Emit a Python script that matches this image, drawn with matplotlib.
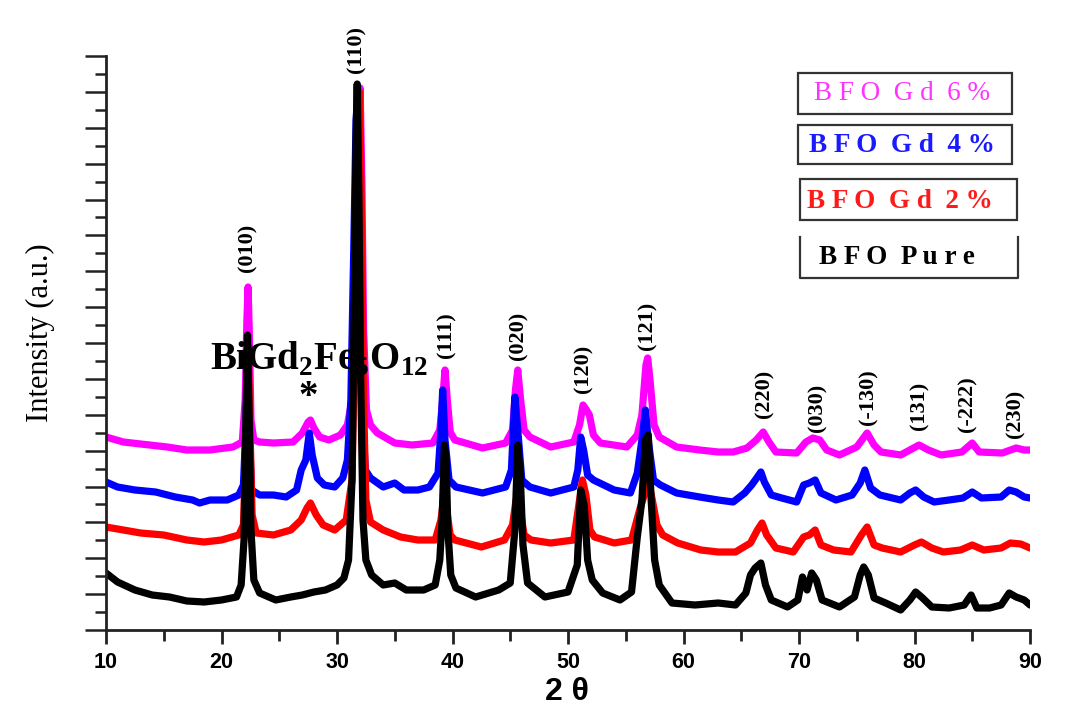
import matplotlib
matplotlib.use("Agg")
import matplotlib.pyplot as plt
from matplotlib.ticker import MultipleLocator, NullFormatter
from matplotlib.patches import Rectangle
from matplotlib.lines import Line2D

# ---------------- data (2theta in degrees, intensity in a.u., stacked as plotted) -------------
x_pure = [10.0, 11.0, 12.5, 14.0, 15.5, 17.0, 18.5, 20.0, 21.3, 21.7, 21.95, 22.1, 22.25, 22.4, 22.55,
          22.8, 23.3, 24.7, 26.0, 27.0, 28.0, 29.0, 30.0, 30.6, 31.0, 31.3, 31.5, 31.65, 31.75, 31.9,
          32.05, 32.25, 32.5, 33.0, 34.0, 35.0, 36.0, 37.5, 38.5, 38.9, 39.1, 39.3, 39.45, 39.6, 39.85,
          40.3, 42.0, 44.0, 45.0, 45.4, 45.65, 45.85, 46.1, 46.5, 48.0, 50.0, 50.8, 51.1, 51.4, 51.7,
          52.1, 53.0, 54.5, 55.5, 56.0, 56.4, 56.7, 56.95, 57.2, 57.5, 57.9, 59.0, 61.0, 63.0, 64.5,
          65.4, 65.8, 66.2, 66.7, 67.1, 67.6, 69.0, 69.9, 70.3, 70.7, 71.1, 71.5, 72.0, 73.5, 74.8,
          75.3, 75.6, 76.0, 76.5, 77.5, 78.8, 79.6, 80.1, 80.7, 81.5, 83.0, 84.3, 84.9, 85.4, 86.5,
          87.5, 88.2, 88.8, 89.5, 90.0]
y_pure = [57, 48, 40, 35, 33, 29, 28, 30, 33, 45, 90, 200, 295, 210, 100,
          50, 37, 30, 33, 35, 38, 40, 45, 52, 70, 150, 330, 490, 546, 430,
          250, 110, 70, 55, 45, 47, 40, 40, 45, 70, 110, 185, 170, 100, 55,
          42, 33, 40, 47, 100, 185, 160, 85, 47, 33, 38, 65, 140, 125, 70,
          50, 37, 30, 38, 93, 130, 190, 195, 130, 70, 45, 27, 25, 27, 25,
          37, 55, 62, 67, 45, 30, 23, 30, 53, 40, 57, 50, 30, 23, 33,
          55, 63, 55, 32, 27, 20, 30, 38, 32, 23, 22, 25, 35, 22, 22,
          25, 37, 33, 30, 25]

x_gd2 = [10.0, 11.5, 13.0, 15.0, 17.0, 18.5, 20.0, 21.5, 21.9, 22.1, 22.3, 22.45, 22.65, 23.0, 24.5,
         26.0, 26.9, 27.4, 27.7, 28.2, 28.8, 29.8, 30.8, 31.3, 31.6, 31.8, 31.95, 32.1, 32.3, 32.5,
         32.9, 34.0, 35.5, 37.0, 38.5, 39.0, 39.25, 39.5, 39.8, 40.2, 42.5, 44.5, 45.2, 45.5, 45.8,
         46.2, 46.8, 48.5, 50.5, 51.0, 51.25, 51.55, 51.9, 52.3, 54.0, 55.5, 56.2, 56.6, 57.0, 57.3,
         57.7, 58.2, 59.5, 61.5, 63.0, 64.5, 65.8, 66.4, 66.8, 67.2, 68.0, 69.5, 70.4, 70.9, 71.4,
         71.9, 73.0, 74.5, 75.4, 75.9, 76.5, 77.2, 78.8, 80.0, 80.6, 81.5, 82.5, 84.0, 85.0, 86.0,
         87.5, 88.3, 89.2, 90.0]
y_gd2 = [103, 100, 97, 95, 90, 88, 90, 95, 105, 180, 285, 210, 115, 97, 95,
         100, 110, 122, 127, 115, 105, 100, 110, 150, 330, 490, 538, 430, 230, 130,
         108, 100, 93, 90, 90, 110, 133, 120, 95, 90, 83, 90, 105, 130, 125,
         95, 90, 87, 90, 130, 150, 135, 100, 93, 87, 90, 120, 135, 147, 130,
         105, 95, 87, 80, 78, 78, 87, 100, 107, 95, 82, 78, 93, 95, 100,
         85, 80, 78, 95, 103, 85, 82, 78, 85, 88, 82, 78, 80, 85, 80,
         82, 87, 86, 82]

x_gd4 = [10.0, 11.0, 12.5, 14.3, 16.0, 17.5, 18.1, 19.0, 20.5, 21.5, 21.9, 22.1, 22.25, 22.4, 22.6,
         23.3, 24.5, 25.6, 26.5, 26.9, 27.3, 27.6, 27.85, 28.3, 28.9, 29.8, 30.5, 30.9, 31.2, 31.45,
         31.65, 31.8, 31.95, 32.15, 32.45, 32.9, 34.0, 35.0, 35.8, 37.0, 38.0, 38.75, 39.0, 39.15, 39.35,
         39.7, 40.3, 42.6, 44.6, 45.1, 45.4, 45.65, 46.0, 46.7, 48.5, 50.5, 50.85, 51.1, 51.35, 51.7,
         52.2, 54.0, 55.4, 56.0, 56.4, 56.7, 57.0, 57.4, 58.0, 59.4, 61.4, 63.0, 64.3, 65.3, 65.9,
         66.4, 66.7, 67.0, 67.6, 68.5, 69.8, 70.4, 70.9, 71.4, 71.9, 73.2, 74.6, 75.3, 75.7, 76.2,
         77.0, 78.8, 79.6, 80.1, 80.8, 81.7, 83.0, 84.2, 85.0, 85.8, 87.5, 88.2, 88.8, 89.5, 90.0]
y_gd4 = [148, 143, 140, 138, 133, 130, 127, 130, 130, 135, 145, 200, 260, 200, 140,
         135, 135, 133, 140, 160, 170, 197, 175, 152, 145, 143, 152, 170, 230, 380,
         510, 535, 410, 230, 160, 152, 143, 147, 140, 140, 143, 157, 200, 240, 190,
         150, 143, 137, 143, 160, 233, 200, 150, 143, 137, 143, 160, 193, 180, 155,
         150, 140, 137, 157, 190, 220, 185, 150, 145, 137, 133, 130, 128, 137, 145,
         153, 158, 148, 135, 132, 128, 145, 147, 150, 137, 130, 135, 147, 160, 142,
         135, 130, 137, 140, 133, 128, 130, 132, 138, 132, 133, 140, 138, 133, 132]

x_gd6 = [10.0, 11.5, 13.0, 15.3, 17.0, 19.0, 21.0, 21.8, 22.05, 22.2, 22.3, 22.4, 22.55, 22.8, 23.3,
         24.5, 26.2, 27.0, 27.5, 27.7, 28.0, 28.5, 29.3, 30.3, 30.9, 31.3, 31.6, 31.85, 32.0, 32.15,
         32.3, 32.55, 32.9, 33.5, 35.0, 36.5, 38.3, 38.9, 39.15, 39.35, 39.55, 39.8, 40.2, 42.6, 44.6,
         45.2, 45.45, 45.65, 45.9, 46.2, 46.7, 48.5, 50.5, 51.0, 51.3, 51.6, 51.85, 52.2, 52.8, 55.1,
         56.0, 56.4, 56.75, 56.9, 57.1, 57.45, 57.9, 59.4, 61.4, 63.0, 64.3, 65.5, 66.3, 66.9, 67.4,
         68.0, 69.8, 70.6, 71.2, 71.8, 72.4, 73.5, 75.0, 75.9, 76.5, 77.1, 78.8, 80.4, 81.2, 82.3,
         84.1, 85.0, 85.6, 87.6, 88.8, 89.5, 90.0]
y_gd6 = [193, 188, 186, 183, 180, 180, 183, 188, 230, 310, 343, 300, 210, 190, 188,
         187, 188, 197, 208, 210, 202, 193, 190, 195, 205, 230, 330, 480, 542, 450,
         300, 220, 205, 197, 187, 185, 187, 200, 230, 260, 230, 198, 190, 182, 187,
         200, 240, 260, 230, 200, 193, 183, 188, 205, 225, 220, 215, 195, 187, 183,
         195, 215, 265, 272, 250, 205, 193, 183, 180, 178, 178, 182, 190, 198, 188,
         178, 177, 188, 192, 190, 180, 175, 183, 197, 185, 178, 175, 185, 180, 175,
         178, 187, 178, 177, 182, 180, 180]

series = [
    (x_gd6, y_gd6, "#ff00ff"),
    (x_gd4, y_gd4, "#0000ff"),
    (x_gd2, y_gd2, "#ff0000"),
    (x_pure, y_pure, "#000000"),
]

peak_labels = ["(010)", "(110)", "(111)", "(020)", "(120)", "(121)",
               "(220)", "(030)", "(-130)", "(131)", "(-222)", "(230)"]
peak_x = [22.25, 31.7, 39.5, 45.7, 51.3, 56.9, 67.0, 71.6, 76.0, 80.4, 84.55, 88.7]
peak_label_base = [358, 557, 272, 270, 237, 280, 212, 198, 205, 200, 198, 192]

legend_texts = ["B F O  G d  6 %", "B F O  G d  4 %", "B F O  G d  2 %", "B F O  P u r e"]
legend_colors = ["#ff33ff", "#1a1aff", "#ff1a1a", "#000000"]
legend_weights = ["normal", "bold", "bold", "bold"]

# ---------------- figure ----------------
W, H = 1072, 710
fig = plt.figure(figsize=(W / 100, H / 100), dpi=100)
ax = fig.add_axes([106 / W, 80 / H, 924 / W, 574 / H])

for xs, ys, c in series:
    ax.plot(xs, ys, color=c, lw=5.2, solid_joinstyle="round", solid_capstyle="round")

ax.set_xlim(10, 90)
ax.set_ylim(0, 574)
for s in ["top", "right"]:
    ax.spines[s].set_visible(False)
for s in ["left", "bottom"]:
    ax.spines[s].set_linewidth(2)
    ax.spines[s].set_color("#222222")

ax.xaxis.set_major_locator(MultipleLocator(10))
ax.xaxis.set_minor_locator(MultipleLocator(5))
ax.yaxis.set_major_locator(MultipleLocator(574 / 16))
ax.yaxis.set_minor_locator(MultipleLocator(574 / 32))
ax.yaxis.set_major_formatter(NullFormatter())
ax.tick_params(axis="x", which="major", direction="out", length=10, width=2, color="#222222",
               labelsize=15.5, pad=6)
ax.tick_params(axis="x", which="minor", direction="out", length=8, width=2, color="#222222")
ax.tick_params(axis="y", which="major", direction="out", length=15, width=1.8, color="#222222")
ax.tick_params(axis="y", which="minor", direction="out", length=8, width=1.8, color="#222222")
for lab in ax.get_xticklabels():
    lab.set_fontweight("bold")
    lab.set_fontfamily("Liberation Sans")

# axis labels
fig.text(40 / W, 1 - 333 / H, "Intensity (a.u.)", rotation=90, ha="center", va="center",
         fontsize=22, family="Liberation Serif")
fig.text(567 / W, 1 - 692 / H, "2 θ", ha="center", va="center", fontsize=23,
         fontweight="bold", family="Liberation Sans")

# peak labels
for lab, px, base in zip(peak_labels, peak_x, peak_label_base):
    ax.text(px, base, lab, rotation=90, ha="center", va="bottom", fontsize=16,
            fontweight="bold", family="Liberation Serif", clip_on=False)

plt.rcParams["mathtext.fontset"] = "custom"
plt.rcParams["mathtext.rm"] = "Liberation Serif"
plt.rcParams["mathtext.bf"] = "Liberation Serif:bold"
ax.text(19.0, 260, r"BiGd$_\mathbf{2}$Fe$_\mathbf{5}$O$_\mathbf{12}$", ha="left", va="baseline",
        fontsize=28, fontweight="bold", family="Liberation Serif")
ax.text(27.5, 233, "*", ha="center", va="center", fontsize=28, fontweight="bold",
        family="Liberation Serif")

# legend boxes (pixel boxes in figure coords)
boxes = [(798, 73, 1012, 114), (798, 125, 1012, 164), (800, 179, 1017, 220), (800, 237, 1018, 278)]
centers = [(902, 93), (902, 145), (900, 201), (897, 257)]
for i, ((x0, y0, x1, y1), (cx, cy)) in enumerate(zip(boxes, centers)):
    if i < 3:
        fig.add_artist(Rectangle((x0 / W, 1 - y1 / H), (x1 - x0) / W, (y1 - y0) / H,
                                 transform=fig.transFigure, fill=False, lw=1.6, ec="#333333"))
    else:
        fig.add_artist(Line2D([x0 / W, x0 / W, x1 / W, x1 / W],
                              [1 - y0 / H, 1 - y1 / H, 1 - y1 / H, 1 - y0 / H],
                              transform=fig.transFigure, lw=1.6, color="#333333"))
    fig.text(cx / W, 1 - cy / H, legend_texts[i], ha="center", va="center", fontsize=19.5,
             color=legend_colors[i], fontweight=legend_weights[i], family="Liberation Serif")

fig.savefig("out.png", dpi=100)
